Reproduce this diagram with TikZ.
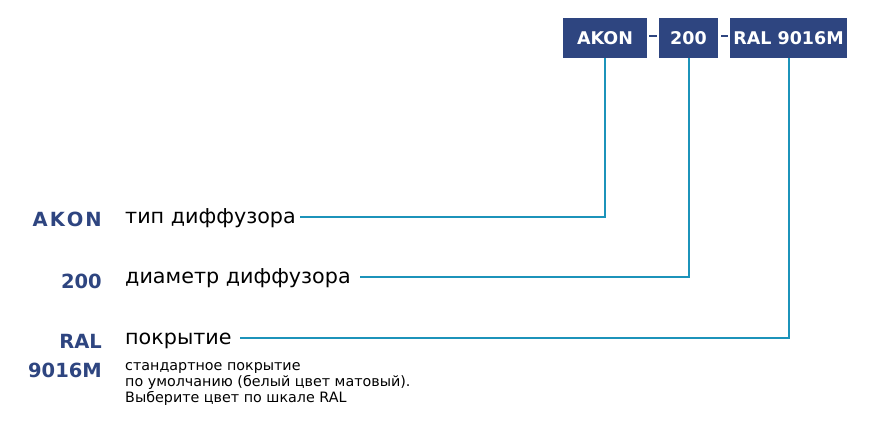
\documentclass[tikz,border=0pt]{standalone}
\usepackage{fontspec}
\setmainfont{DejaVu Sans}
\newfontfamily\descfont[FakeStretch=1.01]{DejaVu Sans}
\definecolor{navy}{HTML}{2E4580}
\definecolor{teal}{HTML}{1C93BA}
\begin{document}
\begin{tikzpicture}[x=1pt,y=-1pt,
  codebox/.style={fill=navy,text=white,font=\bfseries\fontsize{17.5}{18}\selectfont,inner sep=0pt,minimum height=40pt},
  codelbl/.style={text=navy,font=\bfseries\fontsize{19.5}{20}\selectfont,anchor=base east,inner sep=0pt},
  desc/.style={font=\descfont\fontsize{20.5}{21}\selectfont,anchor=base west,inner sep=0pt},
  small/.style={font=\fontsize{14.3}{16}\selectfont,anchor=base west,inner sep=0pt,align=left},
  conn/.style={draw=teal,line width=2pt},
  sep/.style={draw=navy,line width=2pt}]
\useasboundingbox (0,0) rectangle (896,445);
% boxes
\node[codebox,minimum width=84pt] (b1) at (605,38) {AKON};
\node[codebox,minimum width=59pt] (b2) at (688.5,38) {200};
\node[codebox,minimum width=117pt] (b3) at (788.5,38) {RAL 9016M};
\coordinate (d1a) at (649,36); \coordinate (d1b) at (657,36);
\coordinate (d2a) at (721,36); \coordinate (d2b) at (728,36);
\draw[sep] (d1a) -- (d1b);
\draw[sep] (d2a) -- (d2b);
% left labels
\node[codelbl] (l1) at (102,226) {A\kern2pt K\kern2pt O\kern2pt N};
\node[codelbl] (l2) at (102,288) {200};
\node[codelbl] (l3) at (102,348) {RAL};
\node[codelbl] (l3b) at (102,377) {9016M};
% descriptions
\node[desc] (t1) at (125,223) {тип диффузора};
\node[desc] (t2) at (125,283) {диаметр диффузора};
\node[desc] (t3) at (125,344) {покрытие};
\node[small] (s1) at (125,402) {стандартное покрытие\\по умолчанию (белый цвет матовый).\\Выберите цвет по шкале RAL};
% connector ends
\coordinate (e1) at (300,216.5);
\coordinate (e2) at (360,277);
\coordinate (e3) at (240,338);
\draw[conn] (b1.south) |- (e1);
\draw[conn] (b2.south) |- (e2);
\draw[conn] (b3.south) |- (e3);
\end{tikzpicture}
\end{document}
